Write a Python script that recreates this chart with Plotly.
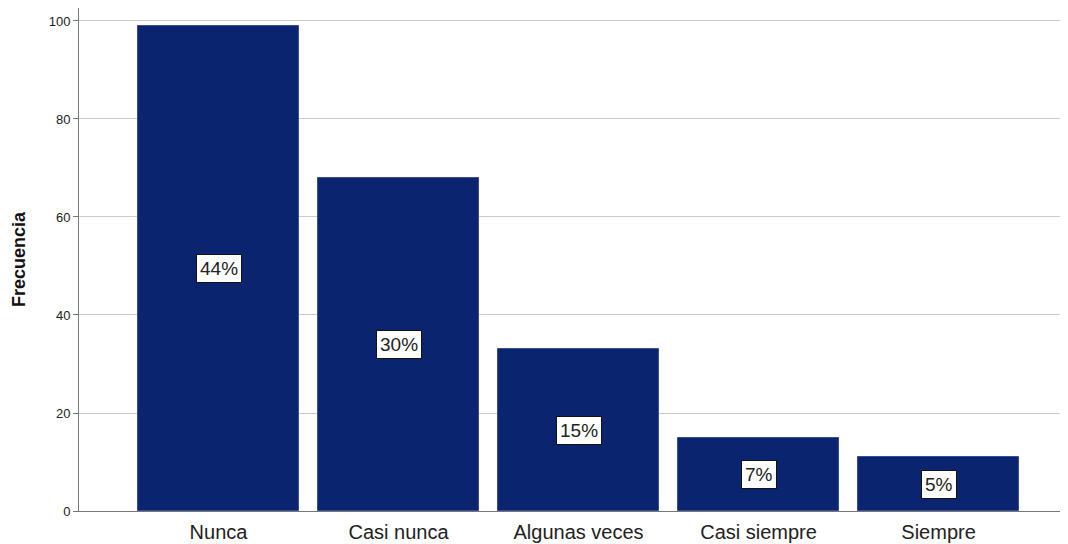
import plotly.graph_objects as go

categories = ["Nunca", "Casi nunca", "Algunas veces", "Casi siempre", "Siempre"]
frecuencia = [99, 68, 33, 15, 11]
pct_labels = ["44%", "30%", "15%", "7%", "5%"]
y_ticks = [0, 20, 40, 60, 80, 100]

xpos = list(range(len(categories)))

fig = go.Figure()
fig.add_trace(go.Bar(
    x=xpos, y=frecuencia, width=0.894,
    marker=dict(color="#0a2470", line=dict(color="#3a4f8f", width=1)),
    hoverinfo="skip",
))

for xi, v, lab in zip(xpos, frecuencia, pct_labels):
    fig.add_annotation(
        x=xi, y=v / 2, text=lab, showarrow=False,
        font=dict(family="Liberation Sans, Arial", size=19, color="#222"),
        bgcolor="white", bordercolor="#111", borderwidth=1, borderpad=3,
    )

fig.update_layout(
    width=1060, height=536,
    margin=dict(l=71, r=2, t=0, b=33),
    plot_bgcolor="white", paper_bgcolor="white",
    showlegend=False,
    bargap=0,
)
fig.update_xaxes(
    range=[-0.775, 4.708], automargin=False,
    tickmode="array", tickvals=xpos, ticktext=categories,
    tickfont=dict(family="Liberation Sans, Arial", size=20, color="#222"),
    ticklabelstandoff=3,
    showgrid=False, showline=True, linecolor="#777", linewidth=1,
    ticks="", zeroline=False,
)
fig.update_yaxes(
    range=[0, 102.65], automargin=False,
    tickmode="array", tickvals=y_ticks,
    tickfont=dict(family="Liberation Sans, Arial", size=13, color="#222"),
    showgrid=True, gridcolor="#cccccc", gridwidth=1,
    showline=True, linecolor="#777", linewidth=1,
    ticks="outside", ticklen=5, tickcolor="#777",
    zeroline=False,
    title=dict(text="<b>Frecuencia</b>", font=dict(family="Liberation Sans, Arial", size=18, color="#111"), standoff=18),
)

fig.write_html("out.html")
